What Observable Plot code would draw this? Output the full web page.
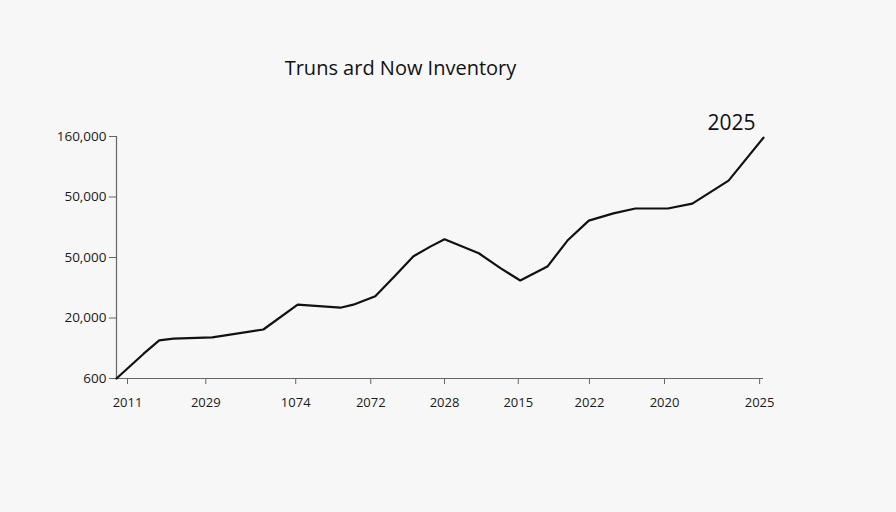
<!DOCTYPE html>
<html>
<head>
<meta charset="utf-8">
<script src="https://cdn.jsdelivr.net/npm/d3@7"></script>
<script src="https://cdn.jsdelivr.net/npm/@observablehq/plot@0.6"></script>
<style>
  html, body { margin: 0; padding: 0; background: #f7f7f7; }
  #wrap { position: relative; width: 896px; height: 512px; overflow: hidden; }
  #title { position: absolute; left: 0; top: 56px; width: 801px; text-align: center;
           font-family: "Open Sans", sans-serif; font-size: 20px; line-height: 24px; color: #111; }
  #chart { position: absolute; left: 0; top: 0; }
</style>
</head>
<body>
<div id="wrap">
  <div id="chart"></div>
  <div id="title">Truns ard Now Inventory</div>
</div>
<script>
// Series (x: position along the axis 0–100, y: axis units 0–4)
const xs = [0, 4.2, 6.6, 8.8, 14.8, 22.7, 28.0, 34.6, 36.6, 40.0, 42.8, 45.9, 48.5, 50.7, 56.0, 59.4, 62.4, 66.6, 69.7, 73.0, 76.8, 80.2, 85.2, 89.0, 94.6, 100];
const ys = [0, 0.41, 0.63, 0.66, 0.68, 0.81, 1.22, 1.17, 1.22, 1.36, 1.67, 2.02, 2.18, 2.30, 2.07, 1.82, 1.62, 1.85, 2.28, 2.61, 2.73, 2.81, 2.81, 2.89, 3.27, 3.98];

// Tick positions and labels
const xTicks = [1.7, 13.8, 27.7, 39.3, 50.7, 62.1, 73.1, 84.7, 99.4];
const xTickLabels = ["2011", "2029", "1074", "2072", "2028", "2015", "2022", "2020", "2025"];
const yTicks = [0, 1, 2, 3, 4];
const yTickLabels = ["600", "20,000", "50,000", "50,000", "160,000"];

const annotation = "2025";

const data = xs.map((x, i) => ({x, y: ys[i]}));
const last = [data[data.length - 1]];

const chart = Plot.plot({
  width: 896,
  height: 512,
  marginTop: 136,
  marginBottom: 134,
  marginLeft: 116,
  marginRight: 133,
  style: { background: "transparent", fontFamily: "Open Sans, sans-serif", color: "#1a1a1a" },
  x: { domain: [0, 100], label: null },
  y: { domain: [0, 4], label: null },
  marks: [
    Plot.ruleX([0], { stroke: "#666", strokeWidth: 1.2 }),
    Plot.ruleY([0], { stroke: "#666", strokeWidth: 1.2 }),
    Plot.axisX({ ticks: xTicks, tickFormat: (d) => xTickLabels[xTicks.indexOf(d)], tickSize: 6, tickPadding: 13, fontSize: 13, stroke: "#666", fill: "#1a1a1a", label: null }),
    Plot.axisY({ ticks: yTicks, tickFormat: (d) => yTickLabels[yTicks.indexOf(d)], tickSize: 7, tickPadding: 3, fontSize: 13.5, stroke: "#666", fill: "#1a1a1a", label: null }),
    Plot.line(data, { x: "x", y: "y", stroke: "#111", strokeWidth: 2.2, strokeLinejoin: "round" }),
    Plot.text(last, { x: "x", y: "y", text: () => annotation, dx: -32, dy: -14, fontSize: 21, fill: "#111" })
  ]
});
document.getElementById("chart").appendChild(chart);
</script>
</body>
</html>
